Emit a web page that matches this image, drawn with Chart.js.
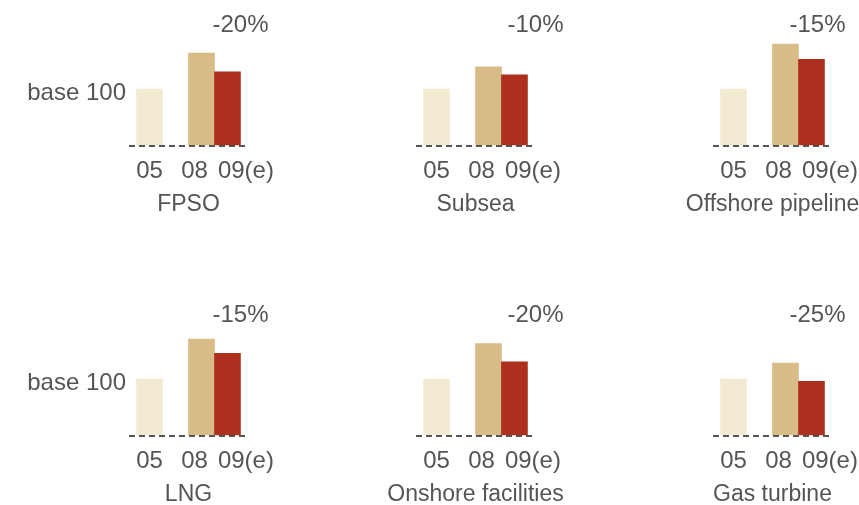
<!DOCTYPE html>
<html>
<head>
<meta charset="utf-8">
<script src="https://cdn.jsdelivr.net/npm/chart.js@4.4.0/dist/chart.umd.min.js"></script>
<style>
  html, body { margin: 0; padding: 0; background: #fff; overflow: hidden; }
  #wrap { position: relative; width: 859px; height: 505px; overflow: hidden; }
  #wrap canvas { position: absolute; }
</style>
</head>
<body>
<div id="wrap"></div>
<script>
// Segments in reading order (3 per row)
const segments = ['FPSO', 'Subsea', 'Offshore pipeline', 'LNG', 'Onshore facilities', 'Gas turbine'];
const years = ['05', '08', '09(e)'];
// Index, 2005 = 100
const values05 = [100, 100, 100, 100, 100, 100];
const values08 = [163, 139, 179, 170, 162, 128];
const values09 = [130, 125, 152, 145, 130, 96];
const changeLabels = ['-20%', '-10%', '-15%', '-15%', '-20%', '-25%'];

// bar slots on the x axis (gap between 05 and 08), tick label slots
const barSlots = [0, 2, 3];
const tickSlots = [0, 1.73, 3.71];
const barColors = ['#F3EAD2', '#D8BC87', '#AD2F1E'];
const textColor = '#555555';
const fontFamily = "'Liberation Sans', Arial, Helvetica, sans-serif";

// panel placement
const colLeft = [0, 287, 584];
const rowTop = [0, 290];
const pctNudge = [-2, 6, -9];
const PANEL_W = 377, PANEL_H = 250, AREA_LEFT = 129, AREA_W = 119;

Chart.defaults.font.family = fontFamily;
Chart.defaults.color = textColor;

// segment name under the axis and the "-xx%" change above the 09(e) bar
function panelTextPlugin(name, change, nudge) {
    return {
        id: 'panelText',
        afterDraw(chart) {
            const area = chart.chartArea;
            const bar = chart.getDatasetMeta(0).data[2];
            const ctx = chart.ctx;
            ctx.save();
            ctx.fillStyle = textColor;
            ctx.textBaseline = 'middle';

            ctx.font = '24px ' + fontFamily;
            ctx.textAlign = 'left';
            ctx.fillText(change, bar.x - bar.width / 2 + nudge, area.top - 7);

            ctx.font = '23px ' + fontFamily;
            ctx.textAlign = 'center';
            ctx.fillText(name, (area.left + area.right) / 2, area.bottom + 59);
            ctx.restore();
        }
    };
}

const wrap = document.getElementById('wrap');

segments.forEach((name, i) => {
    const col = i % 3;
    const row = Math.floor(i / 3);

    const canvas = document.createElement('canvas');
    canvas.width = PANEL_W;
    canvas.height = PANEL_H;
    canvas.style.left = colLeft[col] + 'px';
    canvas.style.top = rowTop[row] + 'px';
    wrap.appendChild(canvas);

    const vals = [values05[i], values08[i], values09[i]];

    new Chart(canvas, {
        type: 'bar',
        data: {
            datasets: [{
                data: barSlots.map((x, k) => ({ x: x, y: vals[k] })),
                backgroundColor: barColors,
                barPercentage: 1,
                categoryPercentage: 1,
                borderWidth: 0,
            }]
        },
        options: {
            responsive: false,
            animation: false,
            layout: {
                padding: { top: 32, bottom: 62, left: 0, right: PANEL_W - AREA_LEFT - AREA_W }
            },
            plugins: {
                legend: { display: false },
                tooltip: { enabled: false },
            },
            scales: {
                x: {
                    type: 'linear',
                    min: -0.79,
                    max: 3.79,
                    offset: false,
                    grid: { display: false, drawTicks: false },
                    border: { display: false },
                    afterBuildTicks: (scale) => {
                        scale.ticks = tickSlots.map(v => ({ value: v }));
                    },
                    afterFit: (scale) => { scale.height = 42; },
                    ticks: {
                        autoSkip: false,
                        maxRotation: 0,
                        padding: 11,
                        color: textColor,
                        font: { size: 24, lineHeight: 1.2 },
                        callback: (value, index) => years[index],
                    }
                },
                y: {
                    min: 0,
                    max: 200,
                    // dashed baseline drawn as the zero grid line, above the bars
                    grid: {
                        drawTicks: false,
                        z: 1,
                        color: (ctx) => ctx.tick && ctx.tick.value === 0 ? '#555555' : 'rgba(0,0,0,0)',
                        lineWidth: (ctx) => ctx.tick && ctx.tick.value === 0 ? 2 : 0,
                    },
                    border: { display: false, dash: [6, 4] },
                    afterBuildTicks: (scale) => { scale.ticks = [{ value: 0 }, { value: 100 }]; },
                    afterFit: (scale) => { scale.width = AREA_LEFT; },
                    ticks: {
                        padding: 3,
                        labelOffset: 4,
                        color: textColor,
                        font: { size: 24 },
                        callback: (value) => (col === 0 && value === 100) ? 'base 100' : '',
                    }
                }
            }
        },
        plugins: [panelTextPlugin(name, changeLabels[i], pctNudge[col])]
    });
});
</script>
</body>
</html>
